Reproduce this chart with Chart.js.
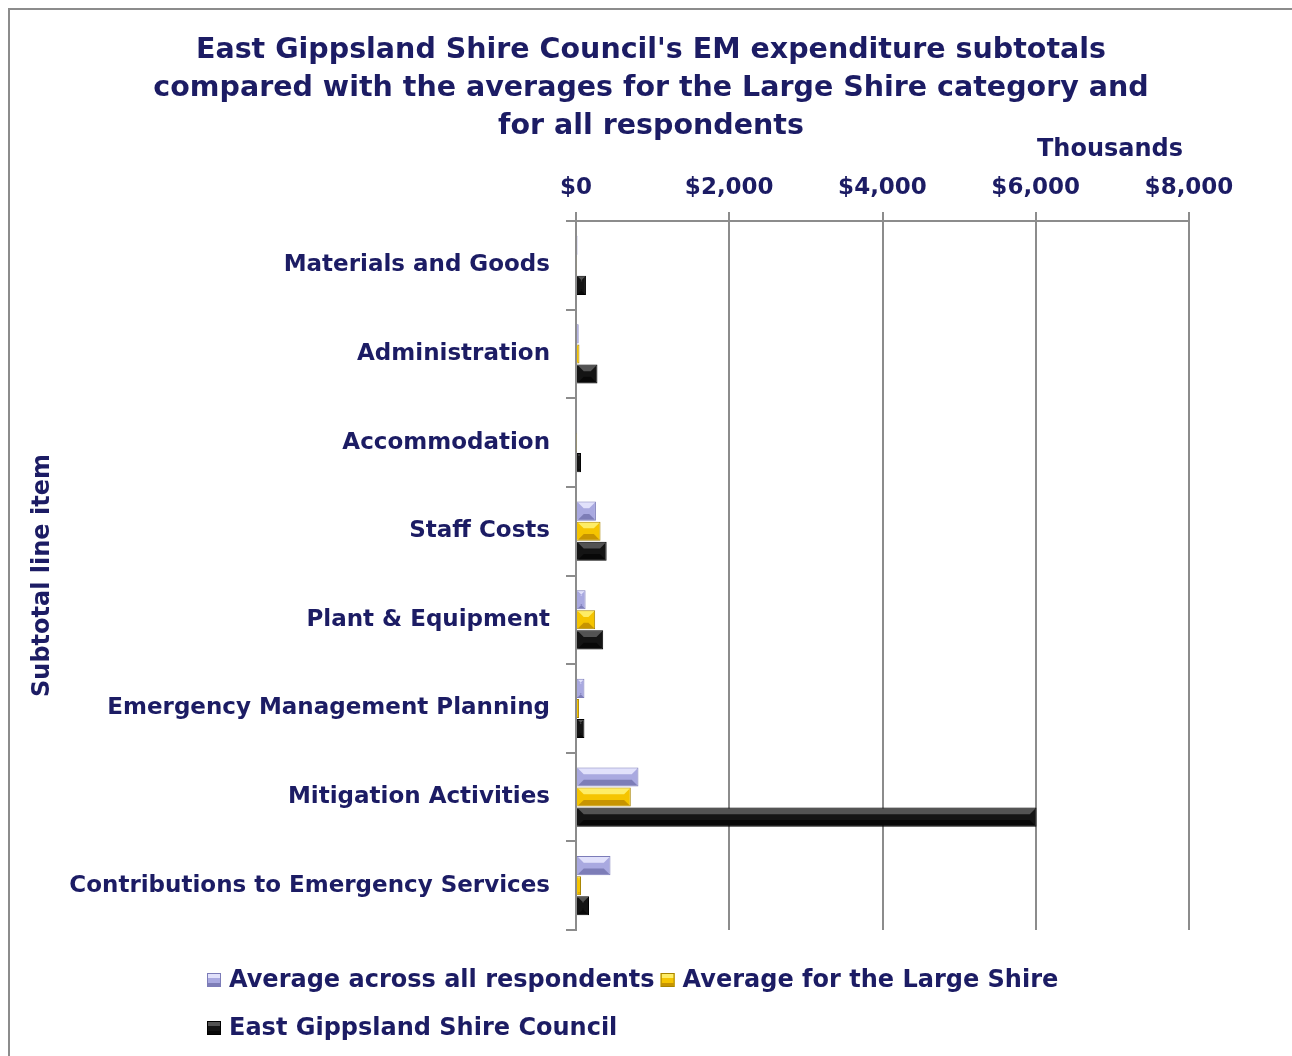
<!DOCTYPE html>
<html>
<head>
<meta charset="utf-8">
<script src="https://cdn.jsdelivr.net/npm/chart.js@4.4.1/dist/chart.umd.min.js"></script>
<style>
  html, body { margin: 0; padding: 0; background: #fff; }
  #wrap { width: 1292px; height: 1056px; position: relative; }
</style>
</head>
<body>
<div id="wrap"><canvas id="chart" width="1292" height="1056"></canvas></div>
<script>
// chart data (values in thousands of dollars)
var categories = [
  "Materials and Goods",
  "Administration",
  "Accommodation",
  "Staff Costs",
  "Plant & Equipment",
  "Emergency Management Planning",
  "Mitigation Activities",
  "Contributions to Emergency Services"
];
var avgAll   = [20, 35, 10, 260, 125, 110, 815, 450];
var avgLarge = [10, 45, 8, 320, 250, 40, 715, 65];
var eastGipp = [130, 280, 65, 400, 355, 110, 6010, 170];
var seriesNames = ["Average across all respondents", "Average for the Large Shire", "East Gippsland Shire Council"];
var titleLines = [
  "East Gippsland Shire Council's EM expenditure subtotals",
  "compared with the averages for the Large Shire category and",
  "for all respondents"
];
var xTicks = [0, 2000, 4000, 6000, 8000];

var NAVY = "#1c1c64";
var GRID = "#8c8c8c";
var FONT = "'DejaVu Sans', sans-serif";
// highlight / shade used for the bevelled look of each series
var bevel = [
  { light: "rgba(235,235,255,0.85)", dark: "rgba(90,90,150,0.55)" },
  { light: "rgba(255,245,120,0.85)", dark: "rgba(160,110,0,0.55)" },
  { light: "rgba(110,110,110,0.7)", dark: "rgba(0,0,0,0.6)" }
];

// little bevel on each bar, using the bar positions that Chart.js worked out
var bevelBars = {
  id: "bevelBars",
  afterDatasetsDraw: function(chart) {
    var c = chart.ctx;
    c.save();
    chart.data.datasets.forEach(function(ds, i) {
      chart.getDatasetMeta(i).data.forEach(function(bar) {
        var p = bar.getProps(["x", "y", "base", "height"], true);
        var x0 = p.base, x1 = p.x, h = p.height, y0 = p.y - h / 2, y1 = p.y + h / 2;
        if (x1 - x0 < 3) return;
        var b = Math.min(h * 0.3, (x1 - x0) / 2);
        c.fillStyle = bevel[i].light;
        c.beginPath();
        c.moveTo(x0 + 1, y0 + 1); c.lineTo(x1 - 1, y0 + 1);
        c.lineTo(x1 - 1 - b, y0 + 1 + b); c.lineTo(x0 + 1 + b, y0 + 1 + b);
        c.closePath(); c.fill();
        c.fillStyle = bevel[i].dark;
        c.beginPath();
        c.moveTo(x0 + 1, y1 - 1); c.lineTo(x1 - 1, y1 - 1);
        c.lineTo(x1 - 1 - b, y1 - 1 - b); c.lineTo(x0 + 1 + b, y1 - 1 - b);
        c.closePath(); c.fill();
      });
    });
    c.restore();
  }
};

// frame, title, units label and legend drawn on the canvas
var decorations = {
  id: "decorations",
  beforeDraw: function(chart) {
    var c = chart.ctx;
    c.save();
    c.strokeStyle = GRID;
    c.lineWidth = 2;
    c.beginPath();
    c.moveTo(9, 1056);
    c.lineTo(9, 9);
    c.lineTo(1292, 9);
    c.stroke();
    c.restore();
  },
  afterDraw: function(chart) {
    var c = chart.ctx;
    c.save();
    c.fillStyle = NAVY;
    c.textAlign = "center";
    c.textBaseline = "middle";
    c.font = "bold 28.5px " + FONT;
    for (var i = 0; i < titleLines.length; i++) {
      c.fillText(titleLines[i], 651, 51 + i * 38);
    }
    c.font = "bold 24px " + FONT;
    c.fillText("Thousands", 1110, 150);

    // legend
    c.font = "bold 24px " + FONT;
    c.textAlign = "left";
    var ds = chart.data.datasets;
    var rows = [[0, 1], [2]];
    var y0 = 980;
    rows.forEach(function(row, r) {
      var x = 207;
      var y = y0 + r * 48;
      row.forEach(function(idx) {
        c.fillStyle = ds[idx].backgroundColor;
        c.fillRect(x, y - 7, 14, 14);
        c.fillStyle = bevel[idx].light;
        c.fillRect(x + 1, y - 6, 12, 4);
        c.fillStyle = bevel[idx].dark;
        c.fillRect(x + 1, y + 3, 12, 3);
        c.strokeStyle = ds[idx].borderColor;
        c.lineWidth = 1;
        c.strokeRect(x + 0.5, y - 6.5, 13, 13);
        c.fillStyle = NAVY;
        c.fillText(ds[idx].label, x + 22, y + 1);
        x += 22 + c.measureText(ds[idx].label).width + 6;
      });
    });
    c.restore();
  }
};

new Chart(document.getElementById("chart"), {
  type: "bar",
  data: {
    labels: categories,
    datasets: [
      { label: seriesNames[0], data: avgAll, backgroundColor: "#a9a9e0", borderColor: "#7c7cb8", borderWidth: 1 },
      { label: seriesNames[1], data: avgLarge, backgroundColor: "#f5c400", borderColor: "#a88400", borderWidth: 1 },
      { label: seriesNames[2], data: eastGipp, backgroundColor: "#141414", borderColor: "#000000", borderWidth: 1 }
    ]
  },
  options: {
    indexAxis: "y",
    responsive: false,
    animation: false,
    layout: { padding: { left: 20, top: 0, right: 103, bottom: 126 } },
    datasets: { bar: { categoryPercentage: 0.68, barPercentage: 0.95 } },
    plugins: {
      legend: { display: false },
      title: { display: false },
      tooltip: { enabled: false }
    },
    scales: {
      x: {
        position: "top",
        min: 0,
        max: 8000,
        afterBuildTicks: function(scale) {
          scale.ticks = xTicks.map(function(v) { return { value: v }; });
        },
        afterFit: function(scale) { scale.height = 221; },
        border: { display: true, color: GRID, width: 2 },
        grid: { color: GRID, lineWidth: 2, tickLength: 9, drawTicks: true },
        ticks: {
          color: NAVY,
          font: { family: FONT, size: 23, weight: "bold" },
          padding: 10,
          maxRotation: 0,
          callback: function(v) { return "$" + v.toLocaleString("en-US"); }
        }
      },
      y: {
        afterFit: function(scale) { scale.width = 556; },
        border: { display: true, color: GRID, width: 2 },
        grid: { display: true, drawOnChartArea: false, color: GRID, lineWidth: 2, tickLength: 10, offset: true },
        ticks: {
          color: NAVY,
          font: { family: FONT, size: 23, weight: "bold" },
          padding: 16
        },
        title: {
          display: true,
          text: "Subtotal line item",
          color: NAVY,
          font: { family: FONT, size: 24, weight: "bold" },
          padding: { top: 8, bottom: 0 }
        }
      }
    }
  },
  plugins: [bevelBars, decorations]
});
</script>
</body>
</html>
